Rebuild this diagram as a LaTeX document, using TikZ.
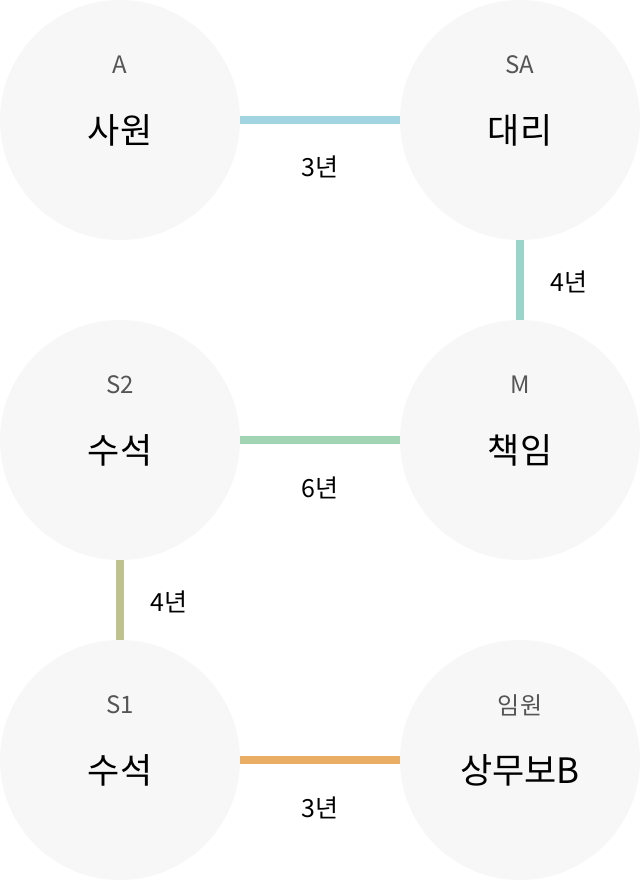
\documentclass[tikz,border=0pt]{standalone}
\usepackage{fontspec}
\setmainfont{Noto Sans CJK KR}
\definecolor{circfill}{HTML}{F7F7F7}
\definecolor{toptext}{HTML}{555555}
\definecolor{cBlue}{HTML}{A2D4E2}
\definecolor{cTeal}{HTML}{9AD5CB}
\definecolor{cGreen}{HTML}{A0D4B2}
\definecolor{cOlive}{HTML}{BEC28F}
\definecolor{cOrange}{HTML}{E9AD63}
\begin{document}
\begin{tikzpicture}[x=1pt,y=-1pt,
  role/.style={circle,fill=circfill,minimum size=240pt,inner sep=0pt},
  toplab/.style={font=\fontsize{24}{26}\selectfont,text=toptext,anchor=center},
  mainlab/.style={font=\fontsize{35}{38}\selectfont,text=black,anchor=center},
  yrs/.style={font=\fontsize{25}{28}\selectfont,text=black,anchor=center},
  link/.style={line width=8pt}]
\useasboundingbox (0,0) rectangle (640,880);
\node[role] (a) at (120,120) {};
\node[role] (sa) at (520,120) {};
\node[role] (s2) at (120,440) {};
\node[role] (m) at (520,440) {};
\node[role] (s1) at (120,760) {};
\node[role] (ex) at (520,760) {};
\foreach \n/\t/\m in {a/A/사원, sa/SA/대리, s2/S2/수석, m/M/책임, s1/S1/수석, ex/임원/상무보B}{
  \node[toplab] (\n-t) at ([yshift=55pt]\n.center) {\t};
  \node[mainlab] (\n-m) at ([yshift=-10pt]\n.center) {\m};
}
\draw[link,cBlue] (a.east) -- (sa.west);
\draw[link,cTeal] (sa.south) -- (m.north);
\draw[link,cGreen] (s2.east) -- (m.west);
\draw[link,cOlive] (s2.south) -- (s1.north);
\draw[link,cOrange] (s1.east) -- (ex.west);
\node[yrs] (y1) at (320,167) {3년};
\node[yrs] (y2) at (569,282) {4년};
\node[yrs] (y3) at (320,488) {6년};
\node[yrs] (y4) at (169,602) {4년};
\node[yrs] (y5) at (320,808) {3년};
\end{tikzpicture}
\end{document}
